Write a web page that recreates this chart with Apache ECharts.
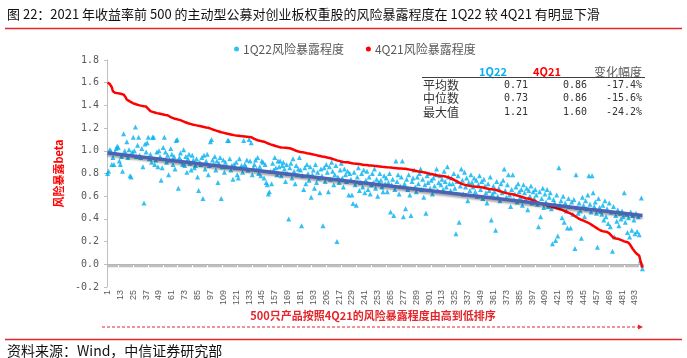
<!DOCTYPE html>
<html><head><meta charset="utf-8">
<script src="https://cdn.jsdelivr.net/npm/echarts@6/dist/echarts.min.js"></script>
<style>html,body{margin:0;padding:0;background:#fff}#c{width:687px;height:358px}</style>
</head><body><div id="c"></div>
<script>
const seriesNames = ['1Q22风险暴露程度', '4Q21风险暴露程度'];
const yTicks = { min: -0.2, max: 1.8, interval: 0.2 };
const nProducts = 500;
const categories = [];
for (let i = 1; i <= nProducts; i++) categories.push(String(i));

const q122 = [
0.80,0.82,1.01,1.00,0.88,0.94,0.88,0.99,1.02,1.04,1.03,0.91,0.88,0.95,0.82,1.15,1.00,0.97,1.08,0.94,
1.01,0.78,0.77,0.99,1.12,1.00,1.21,0.95,1.05,1.12,0.96,0.94,1.02,0.86,0.54,1.06,0.99,1.07,1.12,0.93,
0.97,0.90,1.12,1.12,0.88,0.92,0.99,0.86,1.00,0.95,0.74,0.85,1.03,1.12,0.99,0.90,0.96,0.79,0.92,1.02,
0.97,0.88,0.95,0.84,1.09,1.10,0.67,0.94,0.98,0.91,0.88,1.01,0.87,0.95,0.81,0.93,0.97,0.89,0.83,0.96,
0.92,0.85,0.87,0.93,0.77,0.65,0.90,0.88,0.94,0.58,0.96,0.84,0.91,0.97,0.79,0.87,1.08,1.10,0.92,0.88,
0.95,0.83,0.91,0.72,0.89,0.94,0.58,0.86,0.92,0.81,0.90,0.86,1.09,1.09,0.93,0.83,0.87,0.75,0.88,0.85,
0.90,0.79,0.76,0.93,0.85,0.87,0.81,1.09,0.88,0.86,0.92,0.83,1.10,0.91,1.07,0.79,0.85,0.88,0.92,0.84,
0.94,0.80,0.86,0.78,0.91,0.90,0.76,0.88,0.72,0.70,0.62,0.64,0.82,0.71,0.89,0.83,0.94,0.85,0.79,0.91,
0.86,0.91,0.78,0.87,0.90,0.84,0.73,0.88,0.80,0.40,0.85,0.89,0.76,0.93,0.82,0.71,0.87,0.79,0.84,0.94,
0.83,0.34,0.78,0.66,0.85,0.71,0.88,0.80,0.74,0.86,0.59,0.79,0.83,0.67,0.88,0.72,0.81,0.76,0.63,0.84,
0.78,0.34,0.85,0.73,0.88,0.81,0.64,0.86,0.75,0.90,0.82,0.70,0.79,0.87,0.20,0.77,0.72,0.83,0.89,0.76,
0.68,0.84,0.79,0.73,0.82,0.61,0.80,0.75,0.61,0.535,0.81,0.70,0.52,0.77,0.85,0.65,0.72,0.80,0.68,0.83,
0.63,0.74,0.82,0.66,0.77,0.62,0.70,0.80,0.72,0.84,0.67,0.75,0.60,0.72,0.80,0.74,0.68,0.64,0.78,0.71,
0.76,0.64,0.72,0.80,0.46,0.70,0.75,0.43,0.66,0.91,0.73,0.79,0.62,0.69,0.77,0.91,0.42,0.71,0.49,0.75,
0.66,0.79,0.61,0.43,0.73,0.76,0.83,0.68,0.64,0.77,0.71,0.80,0.84,0.66,0.75,0.59,0.70,0.45,0.78,0.72,
0.80,0.67,0.74,0.62,0.76,0.69,0.79,0.84,0.65,0.72,0.78,0.70,0.75,0.66,0.82,0.73,0.68,0.86,0.77,0.71,
0.65,0.76,0.71,0.80,0.67,0.27,0.73,0.78,0.37,0.69,0.84,0.74,0.62,0.81,0.68,0.76,0.56,0.72,0.65,0.79,
0.72,0.68,0.76,0.64,0.74,0.60,0.70,0.78,0.66,0.73,0.58,0.75,0.69,0.63,0.54,0.71,0.65,0.77,0.39,0.62,
0.69,0.64,0.30,0.73,0.60,0.67,0.56,0.71,0.63,0.74,0.84,0.65,0.59,0.70,0.79,0.61,0.51,0.66,0.79,0.57,
0.62,0.68,0.55,0.71,0.64,0.59,0.66,0.52,0.70,0.63,0.57,0.67,0.48,0.65,0.60,0.69,0.54,0.64,0.58,0.66,
0.61,0.53,0.33,0.64,0.42,0.58,0.67,0.50,0.62,0.55,0.66,0.51,0.59,0.63,0.49,0.18,0.57,0.54,0.21,0.61,
0.25,0.85,0.52,0.56,0.41,0.60,0.37,0.54,0.47,0.32,0.58,0.51,0.32,0.55,0.44,0.57,0.14,0.79,0.50,0.45,
0.54,0.47,0.23,0.59,0.52,0.42,0.56,0.49,0.61,0.78,0.53,0.46,0.78,0.63,0.51,0.55,0.45,0.15,0.58,0.50,
0.47,0.44,0.52,0.39,0.56,0.42,0.49,0.36,0.54,0.33,0.46,0.115,0.51,0.24,0.43,0.38,0.48,0.34,0.45,0.40,
0.47,0.42,0.63,0.37,0.44,0.28,0.41,0.24,0.46,0.30,0.43,0.39,0.27,0.45,0.29,0.42,0.26,0.03,0.585,-0.04
];

const q421 = [
1.600,1.595,1.590,1.580,1.560,1.525,1.515,1.512,1.510,1.508,1.505,1.504,1.502,1.500,1.498,1.495,1.485,1.470,1.450,1.445,
1.440,1.435,1.428,1.420,1.418,1.415,1.412,1.410,1.405,1.402,1.400,1.398,1.396,1.394,1.392,1.391,1.390,1.385,1.370,1.358,
1.350,1.346,1.343,1.340,1.338,1.335,1.332,1.330,1.328,1.326,1.324,1.322,1.320,1.318,1.316,1.315,1.313,1.308,1.302,1.296,
1.292,1.288,1.285,1.282,1.280,1.278,1.275,1.272,1.270,1.266,1.262,1.258,1.254,1.250,1.247,1.244,1.240,1.237,1.235,1.232,
1.230,1.228,1.226,1.224,1.222,1.220,1.218,1.216,1.214,1.212,1.210,1.208,1.206,1.205,1.203,1.200,1.196,1.192,1.188,1.185,
1.182,1.179,1.176,1.173,1.170,1.167,1.164,1.162,1.160,1.157,1.154,1.152,1.150,1.148,1.146,1.144,1.142,1.140,1.138,1.136,
1.135,1.134,1.133,1.132,1.130,1.129,1.128,1.127,1.126,1.125,1.124,1.123,1.122,1.121,1.120,1.115,1.110,1.105,1.100,1.096,
1.093,1.090,1.088,1.086,1.084,1.082,1.080,1.076,1.072,1.068,1.064,1.060,1.057,1.054,1.051,1.048,1.045,1.042,1.039,1.036,
1.033,1.031,1.030,1.029,1.028,1.027,1.026,1.025,1.024,1.023,1.022,1.020,1.016,1.012,1.008,1.004,1.000,0.997,0.994,0.992,
0.990,0.989,0.987,0.986,0.984,0.981,0.979,0.978,0.976,0.973,0.971,0.970,0.967,0.965,0.964,0.961,0.959,0.957,0.955,0.952,
0.950,0.949,0.947,0.944,0.943,0.941,0.938,0.937,0.934,0.932,0.928,0.926,0.922,0.920,0.916,0.914,0.911,0.907,0.905,0.903,
0.902,0.901,0.900,0.900,0.899,0.897,0.895,0.893,0.891,0.889,0.887,0.886,0.885,0.884,0.883,0.882,0.881,0.880,0.878,0.876,
0.875,0.874,0.874,0.873,0.871,0.871,0.870,0.868,0.868,0.867,0.865,0.865,0.864,0.862,0.862,0.861,0.859,0.859,0.858,0.856,
0.856,0.855,0.854,0.853,0.852,0.851,0.850,0.850,0.849,0.848,0.847,0.846,0.845,0.845,0.844,0.843,0.842,0.841,0.841,0.840,
0.838,0.837,0.834,0.833,0.830,0.829,0.826,0.825,0.822,0.821,0.818,0.817,0.815,0.813,0.812,0.809,0.808,0.805,0.804,0.801,
0.799,0.798,0.795,0.794,0.791,0.790,0.787,0.786,0.783,0.782,0.779,0.778,0.777,0.776,0.775,0.774,0.772,0.770,0.766,0.762,
0.758,0.755,0.750,0.746,0.740,0.736,0.730,0.726,0.720,0.716,0.710,0.707,0.704,0.702,0.699,0.698,0.695,0.694,0.691,0.690,
0.688,0.687,0.686,0.685,0.684,0.683,0.682,0.681,0.680,0.678,0.676,0.674,0.672,0.670,0.668,0.666,0.664,0.663,0.662,0.661,
0.660,0.659,0.656,0.654,0.650,0.648,0.644,0.642,0.638,0.636,0.632,0.630,0.627,0.626,0.623,0.622,0.620,0.618,0.617,0.614,
0.612,0.611,0.607,0.605,0.601,0.599,0.595,0.593,0.589,0.587,0.583,0.581,0.580,0.578,0.575,0.572,0.568,0.565,0.560,0.557,
0.552,0.549,0.544,0.541,0.537,0.535,0.531,0.529,0.525,0.523,0.520,0.518,0.515,0.513,0.509,0.507,0.503,0.501,0.497,0.495,
0.491,0.489,0.485,0.483,0.479,0.476,0.471,0.468,0.463,0.460,0.455,0.452,0.447,0.444,0.438,0.430,0.424,0.419,0.412,0.407,
0.400,0.397,0.392,0.389,0.384,0.381,0.376,0.373,0.368,0.362,0.357,0.350,0.345,0.338,0.333,0.326,0.321,0.314,0.309,0.302,
0.298,0.295,0.292,0.290,0.288,0.286,0.284,0.280,0.272,0.262,0.252,0.242,0.234,0.230,0.228,0.227,0.226,0.222,0.218,0.214,
0.210,0.206,0.202,0.199,0.197,0.196,0.190,0.180,0.165,0.150,0.135,0.120,0.110,0.100,0.090,0.082,0.075,0.035,0.020,-0.030
];

// trend line of 1Q22: values at first and last product
const trendEnds = [0.98, 0.43];

const tableHeader = ['1Q22', '4Q21', '变化幅度'];
const tableRows = ['平均数', '中位数', '最大值'];
const table1Q22 = ['0.71', '0.73', '1.21'];
const table4Q21 = ['0.86', '0.86', '1.60'];
const tableChange = ['-17.4%', '-15.6%', '-24.2%'];

const titleText = '图 22：2021 年收益率前 500 的主动型公募对创业板权重股的风险暴露程度在 1Q22 较 4Q21 有明显下滑';
const sourceText = '资料来源：Wind，中信证券研究部';
const noteText = '500只产品按照4Q21的风险暴露程度由高到低排序';
const yName = '风险暴露beta';

const CJK = '"Noto Sans CJK SC", sans-serif';
const MONO = '"DejaVu Sans Mono", monospace';
const BLUE = '#00B0F0', RED = '#FF0000', GRAY = '#595959';

const trendData = categories.map((c, i) => i === 0 ? trendEnds[0] : (i === categories.length - 1 ? trendEnds[1] : '-'));

const graphics = [];
graphics.push({type:'text', style:{text:titleText, x:7, y:14, font:'13px ' + CJK, fill:'#111', verticalAlign:'middle'}});
graphics.push({type:'line', shape:{x1:5, y1:28.5, x2:682, y2:28.5}, style:{stroke:'#E3262B', lineWidth:1.3}});
// table
const colRight = [528, 587, 642];
const colHeadX = [493, 547, 618];
const headColors = [BLUE, RED, GRAY];
tableHeader.forEach((h, i) => {
  graphics.push({type:'text', style:{text:h, x:colHeadX[i], y:72, align:'center', verticalAlign:'middle',
    font:(i < 2 ? 'bold 11px ' : '12px ') + CJK, fill:headColors[i]}});
});
graphics.push({type:'line', shape:{x1:422, y1:77.5, x2:645, y2:77.5}, style:{stroke:'#404040', lineWidth:1}});
const rowY = [85, 98.5, 112];
tableRows.forEach((r, i) => {
  graphics.push({type:'text', style:{text:r, x:423, y:rowY[i], verticalAlign:'middle', font:'12px ' + CJK, fill:'#333'}});
  [table1Q22[i], table4Q21[i], tableChange[i]].forEach((v, j) => {
    graphics.push({type:'text', style:{text:v, x:colRight[j], y:rowY[i], align:'right', verticalAlign:'middle', font:'10px ' + MONO, fill:'#333'}});
  });
});
// bottom note
graphics.push({type:'text', style:{text:noteText, x:373, y:316, align:'center', verticalAlign:'middle', font:'bold 11px ' + CJK, fill:'#E3262B'}});
graphics.push({type:'line', shape:{x1:102, y1:327, x2:638, y2:327}, style:{stroke:'#E3262B', lineWidth:1.2, lineDash:[3,2]}});
graphics.push({type:'polygon', shape:{points:[[638,324.5],[643,327],[638,329.5]]}, style:{fill:'#E3262B'}});
graphics.push({type:'line', shape:{x1:5, y1:339.5, x2:682, y2:339.5}, style:{stroke:'#E3262B', lineWidth:1.3}});
graphics.push({type:'text', style:{text:sourceText, x:7, y:351, verticalAlign:'middle', font:'14px ' + CJK, fill:'#111'}});

const chart = echarts.init(document.getElementById('c'), null, {renderer:'canvas'});
chart.setOption({
  animation: false,
  backgroundColor: '#fff',
  textStyle: {fontFamily: CJK},
  grid: {left: 107, right: 44, top: 60, bottom: 71, containLabel: false},
  legend: {
    data: seriesNames.map(n => ({name:n, icon:'circle'})),
    left: 229, top: 38, itemWidth: 5, itemHeight: 5, itemGap: 22,
    textStyle: {fontSize: 12, color: GRAY, fontFamily: CJK, padding:[0,0,0,-1]}
  },
  xAxis: [{
    type: 'category', data: categories, boundaryGap: true,
    axisLine: {onZero: true, lineStyle: {color: '#A6A6A6', width: 1}},
    axisTick: {show: true, interval: 0, length: 3, lineStyle: {color: '#BFBFBF'}},
    axisLabel: {show: false}
  }, {
    type: 'category', data: categories, boundaryGap: true, position: 'bottom',
    axisLine: {show: false, onZero: false}, axisTick: {show: false},
    axisLabel: {interval: 11, rotate: 90, margin: 3, fontSize: 9, color: GRAY, fontFamily: '"Liberation Sans", Arial'}
  }],
  yAxis: {
    type: 'value', min: yTicks.min, max: yTicks.max, interval: yTicks.interval,
    name: yName, nameLocation: 'middle', nameGap: 40, nameRotate: 90,
    nameTextStyle: {color: RED, fontWeight: 'bold', fontSize: 11, fontFamily: CJK},
    axisLine: {show: true, lineStyle: {color: '#BFBFBF'}},
    axisTick: {show: true, length: 3, lineStyle: {color: '#BFBFBF'}},
    splitLine: {show: false},
    axisLabel: {formatter: v => v.toFixed(1), fontSize: 10, color: GRAY, fontFamily: MONO, margin: 8}
  },
  series: [{
    name: seriesNames[0], type: 'scatter', xAxisIndex: 0, data: q122,
    symbol: 'triangle', symbolSize: 5, itemStyle: {color: BLUE}, z: 2
  }, {
    name: seriesNames[1], type: 'line', xAxisIndex: 0, data: q421,
    showSymbol: false, symbolSize: 4, lineStyle: {color: RED, width: 2.5}, itemStyle: {color: RED}, z: 3
  }, {
    name: 'trend', type: 'line', xAxisIndex: 0, data: trendData, connectNulls: true,
    showSymbol: false, lineStyle: {color: '#4A63B5', width: 3.5, shadowColor: 'rgba(0,0,0,0.35)', shadowBlur: 2, shadowOffsetY: 2}, z: 4
  }],
  graphic: graphics
});
</script>
</body></html>
